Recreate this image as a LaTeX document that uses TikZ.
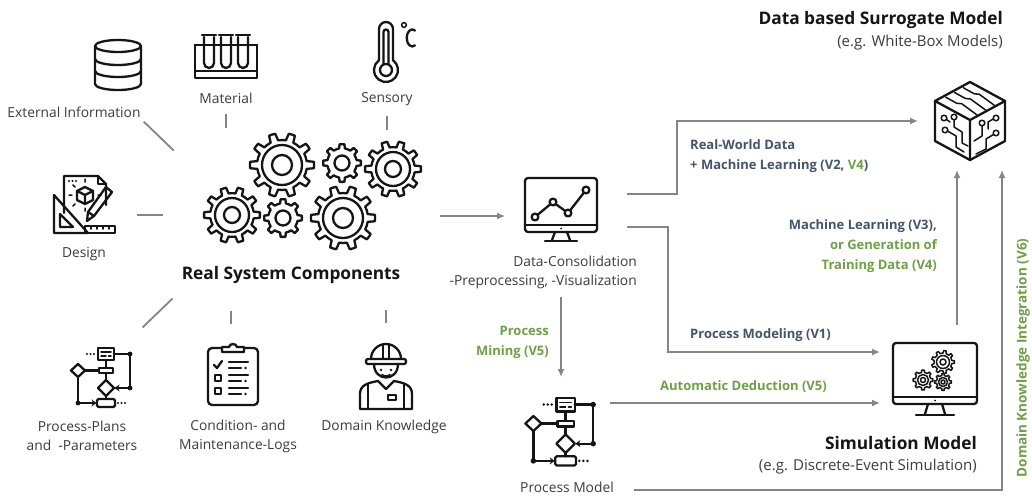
\documentclass[tikz,border=0pt]{standalone}
\usepackage{fontspec}
\setmainfont{Open Sans}
\usetikzlibrary{arrows.meta,positioning,calc}
\definecolor{ink}{HTML}{151515}
\definecolor{txt}{HTML}{3C3C3C}
\definecolor{slate}{HTML}{44546A}
\definecolor{leaf}{HTML}{6F9F46}
\definecolor{wire}{HTML}{858585}

\tikzset{
  ico/.style={draw=ink,line width=2.3pt,line join=round,line cap=round},
  fine/.style={ico,line width=1.5pt},
  gear lw/.style={},
  % toothed wheel: teeth, outer radius, ring radius, hub radius
  pics/gear/.style n args={4}{code={
    \pgfmathsetmacro\gstep{360/#1}
    \pgfmathsetmacro\glast{360-\gstep}
    \pgfmathsetmacro\gbase{0.25*\gstep}
    \pgfmathsetmacro\gtip{0.16*\gstep}
    \pgfmathsetmacro\groot{0.78*#2}
    \draw[ico,gear lw] ({-\gbase}:\groot)
      \foreach \ga in {0,\gstep,...,\glast} {
        -- ({\ga-\gtip}:#2) arc ({\ga-\gtip}:{\ga+\gtip}:#2)
        -- ({\ga+\gbase}:\groot) arc ({\ga+\gbase}:{\ga+\gstep-\gbase}:\groot)
      } -- cycle;
    \draw[ico,gear lw] (0,0) circle (#3) (0,0) circle (#4);
  }},
  pics/database/.style={code={
    \draw[ico] (0,19) ellipse (23 and 6);
    \draw[ico] (-23,19) -- (-23,-19) arc (180:360:23 and 6) -- (23,19);
    \draw[ico] (-23,6) arc (180:360:23 and 6);
    \draw[ico] (-23,-6) arc (180:360:23 and 6);
  }},
  pics/tubes/.style={code={
    \foreach \tx in {-17,0,17} {
      \draw[ico] (\tx-5,19) -- (\tx-5,-7) arc (180:360:5) -- (\tx+5,19);
      \draw[ico] (\tx-7,21) -- (\tx+7,21);
    }
    \draw[ico] (-31,11) -- (31,11);
    \draw[ico] (-31,11) -- (-31,-22) -- (31,-22) -- (31,11);
    \draw[ico] (-31,-15) -- (31,-15);
  }},
  pics/thermo/.style={code={
    \draw[ico] (-7,-8.25) -- (-7,23) arc (180:0:7) -- (7,-8.25) arc (54.3:-234.3:12);
    \draw[ico] (-2.5,-12) -- (-2.5,20) arc (180:0:2.5) -- (2.5,-12);
    \draw[ico] (0,-18) circle (6);
    \draw[fine] (18,27) circle (2.4);
    \draw[ico] (29,21.4) arc (60:300:5.5 and 8.5);
  }},
  pics/design/.style={code={
    \draw[ico] (-20,-6) -- (-20,31) -- (14,31) -- (22,23) -- (22,2);
    \draw[ico] (14,31) -- (14,23) -- (22,23);
    \foreach \dx in {-15,-11.5,-8} \fill[ink] (\dx,26) circle (1.1);
    % cube
    \draw[ico] (1,20) -- (9,16) -- (9,7) -- (1,3) -- (-7,7) -- (-7,16) -- cycle;
    \draw[ico] (-7,16) -- (1,12) -- (9,16) (1,12) -- (1,3);
    \draw[fine] (1,28) -- (1,25) (-15,12) -- (-12,12) (14,12) -- (17,12) (1,-1) -- (1,-4)
      (-11,22) -- (-9,20) (-11,1) -- (-9,3);
    % set square
    \draw[ico] (-30,12) -- (-30,-26) -- (4,-26) -- cycle;
    \draw[ico] (-24,-7) -- (-24,-20) -- (-11,-20) -- cycle;
    % ruler
    \draw[ico] (1,-19) rectangle (31,-26);
    \foreach \rx in {7,13,19,25} \draw[fine] (\rx,-19) -- (\rx,-22);
    % pencil
    \draw[ico] (22,20) -- (28,15) -- (10,-9) -- (4,-5) -- cycle;
    \draw[ico] (10,-9) -- (3,-14) -- (4,-5);
  }},
  pics/flowchart/.style={code={
    \draw[ico] (-4,17) rectangle (12,29);
    \draw[fine] (-1,25) -- (9,25) (-1,21) -- (4,21) (6.5,21) -- (9,21);
    \foreach \dx in {-15,-11.5,-8} \fill[ink] (\dx,23) circle (1.2);
    \draw[ico] (12,23) -- (28,23) -- (28,-11);
    \draw[ico,-{Stealth[length=5pt,width=7pt]}] (28,-11) -- (12.5,-11);
    \fill[ink] (28,23) circle (2.4) (28,-11) circle (2.4);
    \draw[ico] (4,17) -- (4,9);
    \draw[ico] (-3,4) rectangle (11,9);
    \draw[ico] (-24,13) -- (-17,6.5) -- (-24,0) -- (-31,6.5) -- cycle;
    \draw[ico] (-17,6.5) -- (-3,6.5);
    \draw[ico] (4,4) -- (4,-3);
    \draw[ico] (4,-3) -- (12,-11) -- (4,-19) -- (-4,-11) -- cycle;
    \draw[ico] (4,-19) -- (4,-22);
    \draw[ico,rounded corners=1.5pt] (-5,-22) rectangle (13,-30);
    \foreach \dx in {16,19.5,23} \fill[ink] (\dx,-26) circle (1.2);
    \draw[ico] (-24,0) -- (-24,-26);
    \fill[ink] (-24,-26) circle (2.4);
    \draw[ico,-{Stealth[length=5pt,width=7pt]}] (-24,-26) -- (-5.5,-26);
  }},
  pics/clipboard/.style={code={
    \draw[ico,rounded corners=4pt] (-25,-29) rectangle (25,28);
    \draw[ico,fill=white] (-11,24) -- (-11,29) -- (-4,29) .. controls (-3,33) and (3,33) .. (4,29)
      -- (11,29) -- (11,24) -- cycle;
    \draw[ico] (-19,11) -- (-16,8) -- (-11,15);
    \foreach \ry in {0,-13} \draw[ico] (-18,\ry-5) rectangle (-12,\ry+1);
    \foreach \ry in {14,1,-12} {
      \draw[ico] (-4,\ry) -- (15,\ry) (-4,\ry-6) -- (8,\ry-6);
      \fill[ink] (12.5,\ry-6) circle (1.3);
    }
  }},
  pics/worker/.style={code={
    \draw[ico] (-15,18) arc (180:0:15);
    \draw[ico,rounded corners=2pt] (-20,13) rectangle (20,18);
    \draw[ico] (-3,18) -- (-3,32.5) (3,18) -- (3,32.5);
    \draw[ico] (-12,13) .. controls (-12,-5) and (12,-5) .. (12,13);
    \fill[ink] (-5,7) circle (1.4) (5,7) circle (1.4);
    \draw[fine] (-4,2.5) .. controls (-2,0.5) and (2,0.5) .. (4,2.5);
    \draw[ico] (-26,-32) -- (-26,-17) .. controls (-26,-9) and (-20,-6) .. (-8,-4) -- (0,-12)
      -- (8,-4) .. controls (20,-6) and (26,-9) .. (26,-17) -- (26,-32) -- cycle;
    \draw[ico] (-18,-8) -- (-18,-32) (18,-8) -- (18,-32);
    \draw[ico] (2,-23) rectangle (10,-18);
  }},
  pics/chartscreen/.style={code={
    \draw[ico,rounded corners=3pt] (-36,-22) rectangle (36,32);
    \draw[ico] (-36,-15) -- (36,-15);
    \fill[ink] (0,-18.5) circle (1);
    \draw[ico] (-6,-22) -- (-9,-30) (6,-22) -- (9,-30);
    \draw[ico] (-16,-31) -- (16,-31);
    \draw[ico] (-26,-7) -- (-8,8) -- (7,-3) -- (25,20);
    \foreach \p in {(-26,-7),(-8,8),(7,-3),(25,20)} \draw[ico,fill=white] \p circle (3.4);
  }},
  pics/gearscreen/.style={code={
    \draw[ico,rounded corners=3pt] (-42,-24) rectangle (42,37);
    \draw[ico] (-42,-17) -- (42,-17);
    \fill[ink] (0,-20.5) circle (1);
    \draw[ico] (-7,-24) -- (-10,-34) (7,-24) -- (10,-34);
    \draw[ico] (-19,-35) -- (19,-35);
    \begin{scope}[gear lw/.style={line width=1.5pt}]
      \pic at (8,18) {gear={9}{11.5}{6.5}{3}};
      \pic at (-12,0) {gear={8}{10}{5.5}{2.5}};
      \pic at (8,-2) {gear={8}{8.5}{4.5}{2}};
    \end{scope}
  }},
  pics/aicube/.style={code={
    \draw[ico] (0,39) -- (35,20) -- (35,-20) -- (0,-39) -- (-35,-20) -- (-35,20) -- cycle;
    \draw[ico] (-35,20) -- (0,1) -- (35,20) (0,1) -- (0,-39);
    \foreach \t in {0.25,0.5,0.75}
      \draw[fine] ({-35+35*\t+2},{20+19*\t-1}) -- ++(11,-6) -- ++(5,-0.5) -- ++(15,-11);
    \draw[fine] (-26,3) circle (2.8) (-16,4) circle (2.8) (-25,-9) circle (2.8);
    \draw[fine] (-16,1.2) -- (-16,-6) -- (-8,-11) -- (-8,-22) -- (-2,-25)
      (-22.5,-10) -- (-14,-15) -- (-14,-26) -- (-6,-31) (-23.5,1.5) -- (-20,-1);
    \draw[fine] (12,-2) circle (2.8) (26,3) circle (2.8) (26,-12) circle (2.8);
    \draw[fine] (12,-4.8) -- (12,-15) -- (4,-20) (23.2,2) -- (18,-1) -- (18,-8)
      (23.4,-13.5) -- (16,-18) -- (16,-28) -- (6,-33);
  }}
}

\begin{document}
\begin{tikzpicture}[
  x=1pt,y=1pt,
  box/.style={inner sep=0pt,outer sep=0pt},
  lbl/.style={text=txt,font=\fontsize{13.8}{19}\selectfont,align=center,inner sep=0pt},
  sub/.style={lbl,font=\fontsize{15}{19}\selectfont},
  head/.style={text=ink,font=\fontsize{17.3}{20}\selectfont\bfseries,inner sep=0pt},
  note/.style={text=slate,font=\fontsize{13}{20}\selectfont\bfseries,inner sep=0pt},
  wire/.style={draw=wire,line width=1.8pt},
  arr/.style={wire,-{Latex[length=8pt,width=7pt]}}
]
\fill[white] (0,0) rectangle (1032,-496);
\useasboundingbox (0,0) rectangle (1032,-496);

% real system and its sources
\node[box,minimum width=280pt,minimum height=140pt] (rsc) at (300,-192) {};
\pic at (282,-165) {gear={10}{32}{20}{10}};
\pic at (342,-163) {gear={8}{19}{7.5}{7.5}};
\pic at (393,-169) {gear={10}{28}{17}{8}};
\pic at (232,-215) {gear={10}{28}{17}{8}};
\pic at (283,-218) {gear={8}{19}{7.5}{7.5}};
\pic at (343,-218) {gear={10}{32}{20}{10}};
\node[head] (rsclbl) at (291,-275) {Real System Components};

\node[box,minimum width=47pt,minimum height=50pt] (db) at (118,-65) {};
\pic at (db) {database};
\node[lbl] (extlbl) at (74,-112) {External Information};
\node[box,minimum width=62pt,minimum height=45pt] (mat) at (226,-56) {};
\pic at (mat) {tubes};
\node[lbl] (matlbl) at (226,-98) {Material};
\node[box,minimum width=30pt,minimum height=62pt] (sen) at (386,-52) {};
\pic at (sen) {thermo};
\node[lbl] (senlbl) at (387,-99) {Sensory};
\node[box,minimum width=62pt,minimum height=61pt] (dsg) at (84,-207) {};
\pic at (dsg) {design};
\node[lbl] (dsglbl) at (84,-254) {Design};
\node[box,minimum width=61pt,minimum height=61pt] (pp) at (102,-377) {};
\pic at (pp) {flowchart};
\node[lbl] (pplbl) at (82,-436) {Process-Plans\\and \ -Parameters};
\node[box,minimum width=50pt,minimum height=61pt] (clip) at (233,-376) {};
\pic at (clip) {clipboard};
\node[lbl] (cllbl) at (238,-436) {Condition- and\\Maintenance-Logs};
\node[box,minimum width=52pt,minimum height=64pt] (wkr) at (386,-377) {};
\pic at (wkr) {worker};
\node[lbl] (dklbl) at (384,-427) {Domain Knowledge};

\draw[wire] ([shift={(3pt,-4pt)}]extlbl.south east) -- ++(30,-29);
\draw[wire] ([yshift=-10pt]matlbl.south) -- ++(0,-14);
\draw[wire] ([yshift=-10pt]senlbl.south) -- ++(0,-14);
\draw[wire] ([shift={(22pt,-8pt)}]dsg.east) -- ++(26,0);
\draw[wire] ([shift={(10pt,19pt)}]pp.north east) -- ++(30,29);
\draw[wire] ([shift={(-2pt,22pt)}]clip.north) -- ++(0,13);
\draw[wire] ([yshift=22pt]wkr.north) -- ++(0,13);

% data consolidation and process model
\node[box,minimum width=112pt,minimum height=65pt] (dat) at (561,-210) {};
\pic at (dat) {chartscreen};
\node[lbl,align=right,anchor=east] (datlbl) at (637,-272) {Data-Consolidation\\-Preprocessing, -Visualization};
\node[box,minimum width=72pt,minimum height=68pt] (procm) at (561,-431) {};
\pic[scale=1.15] at (procm) {flowchart};
\node[lbl] (pmlbl) at (567,-487) {Process Model};
\node[note,text=leaf,align=right,anchor=east] (minelbl) at (549,-342) {Process\\Mining (V5)};

% target models
\node[box,minimum width=104pt,minimum height=78pt] (cube) at (970,-121) {};
\pic at (cube) {aicube};
\node[head,anchor=east] (sgtitle) at (1003,-20) {Data based Surrogate Model};
\node[sub,anchor=east] (sgsub) at (1003,-43) {(e.g. White-Box Models)};
\node[box,minimum width=110pt,minimum height=75pt] (sim) at (935,-380) {};
\pic at (sim) {gearscreen};
\node[head,anchor=east] (simtitle) at (977,-443) {Simulation Model};
\node[sub,anchor=east] (simsub) at (977,-467) {(e.g. Discrete-Event Simulation)};

\node[note,align=left,anchor=west] (rwlbl) at (690,-156) {Real-World Data\\+ Machine Learning (V2, {\color{leaf}V4})};
\node[note,anchor=west] (pmodlbl) at (690,-335) {Process Modeling (V1)};
\node[note,text=leaf,anchor=west] (adlbl) at (660,-387) {Automatic Deduction (V5)};
\node[note,align=right,anchor=east] (mllbl) at (937,-246) {Machine Learning (V3),\\{\color{leaf}or Generation of}\\{\color{leaf}Training Data (V4)}};
\node[note,text=leaf,rotate=90,font=\fontsize{13.5}{16}\selectfont\bfseries] (dkilbl) at (1023,-358) {Domain Knowledge Integration (V6)};

% flows
\path ([yshift=-6pt]dat.west) coordinate (datin);
\draw[arr] (rsc.east |- datin) -- (datin);
\draw[arr,shorten <=10pt] ([yshift=16pt]dat.east) -- ++(60,0) |- (cube.west);
\draw[arr,shorten <=10pt] ([yshift=-17pt]dat.east) -- ++(51,0) |- ([yshift=28pt]sim.west);
\draw[arr,shorten <=8pt,shorten >=20pt] (datlbl.south -| dat) -- (procm);
\coordinate (pmout) at ([yshift=28pt]procm.east);
\draw[arr,shorten <=13pt] (pmout) -- (pmout -| sim.west);
\coordinate (mlbase) at ([shift={(22pt,18pt)}]sim.north);
\draw[arr,shorten >=10pt] (mlbase) -- (mlbase |- cube.south);
\draw[arr,shorten <=20pt,shorten >=10pt] ([yshift=-3pt]pmlbl.east) -| ([xshift=32pt]cube.south);
\end{tikzpicture}
\end{document}
